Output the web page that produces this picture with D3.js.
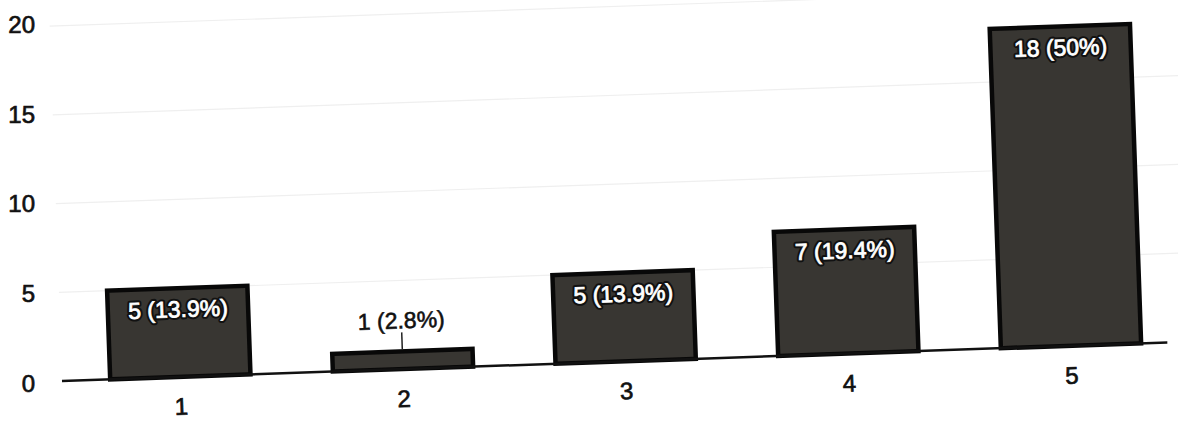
<!DOCTYPE html>
<html>
<head>
<meta charset="utf-8">
<script src="https://cdn.jsdelivr.net/npm/d3@7"></script>
<style>
  html, body { margin: 0; padding: 0; background: #fff; }
  svg { display: block; }
  text { font-family: "Liberation Sans", Arial, sans-serif; }
</style>
</head>
<body>
<script>
const categories = ["1", "2", "3", "4", "5"];
const counts = [5, 1, 5, 7, 18];
const valueLabels = ["5 (13.9%)", "1 (2.8%)", "5 (13.9%)", "7 (19.4%)", "18 (50%)"];
const yTicks = [0, 5, 10, 15, 20];

const W = 1178, H = 421;
const origin = { x: 62, y: 381 };
const tilt = -2;

const svg = d3.select("body").append("svg").attr("width", W).attr("height", H);

const x = d3.scaleBand().domain(categories).range([7, 1121])
  .paddingInner(0.37).paddingOuter(0.185);
const y = d3.scaleLinear().domain([0, 20]).range([0, -355]);

// y tick labels (unrotated, left column)
svg.append("g").selectAll("text").data(yTicks).join("text")
  .attr("x", 35)
  .attr("y", d => origin.y + 2 + y(d) * 1.01)
  .attr("text-anchor", "end")
  .attr("dominant-baseline", "central")
  .attr("font-size", 24)
  .attr("fill", "#111")
  .attr("stroke", "#111").attr("stroke-width", 0.7)
  .text(d => d);

const g = svg.append("g")
  .attr("transform", `translate(${origin.x},${origin.y}) rotate(${tilt})`);

// gridlines
g.append("g").selectAll("line").data(yTicks.filter(d => d > 0)).join("line")
  .attr("x1", 0).attr("x2", 1140)
  .attr("y1", d => y(d)).attr("y2", d => y(d))
  .attr("stroke", "#efefef").attr("stroke-width", 1.2);

// bars
g.append("g").selectAll("rect").data(categories).join("rect")
  .attr("x", c => x(c))
  .attr("width", x.bandwidth())
  .attr("y", (c, i) => y(counts[i]))
  .attr("height", (c, i) => -y(counts[i]))
  .attr("fill", "#383632")
  .attr("stroke", "#080808")
  .attr("stroke-width", 4.5);

// baseline
g.append("line")
  .attr("x1", 0).attr("x2", 1106)
  .attr("y1", y(0)).attr("y2", y(0))
  .attr("stroke", "#111").attr("stroke-width", 2.5);

// value labels
categories.forEach((c, i) => {
  const cx = x(c) + x.bandwidth() / 2;
  const inside = counts[i] >= 3;
  if (inside) {
    g.append("text")
      .attr("x", cx).attr("y", y(counts[i]) + 29)
      .attr("text-anchor", "middle")
      .attr("font-size", 23)
      .attr("fill", "#111")
      .attr("stroke", "#111").attr("stroke-width", 5)
      .attr("stroke-linejoin", "round")
      .text(valueLabels[i]);
    g.append("text")
      .attr("x", cx).attr("y", y(counts[i]) + 29)
      .attr("text-anchor", "middle")
      .attr("font-size", 23)
      .attr("fill", "#fff")
      .attr("stroke", "#fff").attr("stroke-width", 0.8)
      .text(valueLabels[i]);
  } else {
    g.append("line")
      .attr("x1", cx).attr("x2", cx)
      .attr("y1", y(counts[i]) - 2).attr("y2", y(counts[i]) - 19)
      .attr("stroke", "#222").attr("stroke-width", 1.5);
    g.append("text")
      .attr("x", cx).attr("y", y(counts[i]) - 23)
      .attr("text-anchor", "middle")
      .attr("font-size", 23)
      .attr("fill", "#111")
      .attr("stroke", "#111").attr("stroke-width", 0.6)
      .text(valueLabels[i]);
  }
});

// x tick labels
g.append("g").selectAll("text").data(categories).join("text")
  .attr("x", c => x(c) + x.bandwidth() / 2)
  .attr("y", 38)
  .attr("text-anchor", "middle")
  .attr("font-size", 24)
  .attr("fill", "#111")
  .attr("stroke", "#111").attr("stroke-width", 0.7)
  .text(c => c);
</script>
</body>
</html>
